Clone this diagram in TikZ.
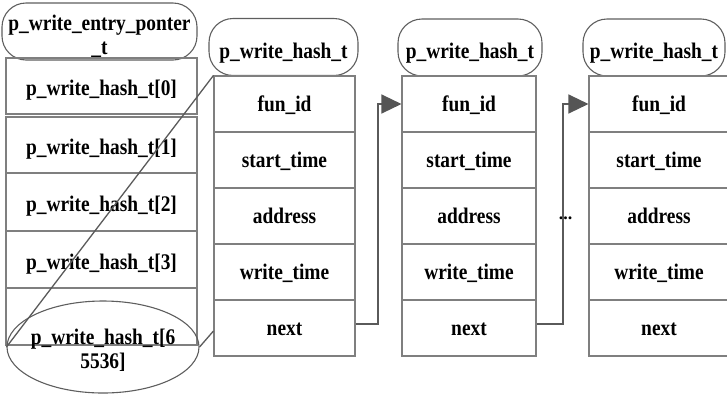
\documentclass[tikz,border=0pt]{standalone}
\usepackage{fontspec}
\setmainfont{Liberation Serif}
\newfontfamily\lblfont{Liberation Serif}[FakeStretch=0.87]
\usetikzlibrary{arrows.meta,shapes.geometric}
\definecolor{boxline}{HTML}{7F7F7F}
\definecolor{headline}{HTML}{5E5E5E}
\definecolor{linkline}{HTML}{5A5A5A}
\definecolor{tipfill}{HTML}{555555}
\tikzset{
  lbl/.style={font=\lblfont\fontsize{22.3}{24}\selectfont\bfseries, text=black},
  hdr/.style={lbl, draw=headline, line width=1.1pt, rounded corners=24pt,
              minimum height=57pt, inner sep=0pt, text height=22pt, text depth=0pt},
  shell/.style={draw=headline, line width=1.1pt, rounded corners=24pt,
              minimum height=57pt, inner sep=0pt},
  cell/.style={lbl, draw=boxline, line width=1.1pt, inner sep=0pt},
  arr/.style={cell, minimum width=191pt, text height=19pt, text depth=0pt},
  fld/.style={cell, minimum height=56pt, text height=15pt, text depth=1pt},
  link/.style={draw=linkline, line width=1.3pt},
  tip/.style={-{Triangle[length=20pt,width=19pt,fill=tipfill,color=tipfill]}},
  bigoval/.style={ellipse, draw=headline, line width=1.1pt,
                  minimum width=192pt, minimum height=92pt, inner sep=0pt}
}
\begin{document}
\begin{tikzpicture}[x=1pt,y=-1pt]
\useasboundingbox (0,0) rectangle (727,397);
\clip (0,0) rectangle (727,397);

% entry pointer table
\node[shell, minimum width=195pt] (ent) at (99.5,31.5) {};
\node[lbl, align=center, inner sep=0pt] (entT) at (99.5,36) {p\_write\_entry\_ponter\\\_t};
\node[arr, minimum height=56pt] (a0) at (101.5,86) {p\_write\_hash\_t[0]};
\node[arr, minimum height=56pt] (a1) at (101.5,145) {p\_write\_hash\_t[1]};
\node[arr, minimum height=58pt] (a2) at (101.5,202) {p\_write\_hash\_t[2]};
\node[arr, minimum height=57pt] (a3) at (101.5,259.5) {p\_write\_hash\_t[3]};
\node[arr, minimum height=57pt] (a4) at (101.5,316.5) {};
\node[bigoval] (last) at (103,347) {};
\node[lbl, align=center, inner sep=0pt] (lastT) at (103,350) {p\_write\_hash\_t[6\\5536]};

% first hash record
\node[hdr, minimum width=149pt] (h1) at (283.5,47) {p\_write\_hash\_t};
\node[fld, minimum width=141pt] (f1) at (284.5,104) {fun\_id};
\node[fld, minimum width=141pt] (s1) at (284.5,160) {start\_time};
\node[fld, minimum width=141pt] (d1) at (284.5,216) {address};
\node[fld, minimum width=141pt] (w1) at (284.5,272) {write\_time};
\node[fld, minimum width=141pt] (n1) at (284.5,328) {next};

% second hash record
\node[hdr, minimum width=144pt] (h2) at (470,47.5) {p\_write\_hash\_t};
\node[fld, minimum width=134pt] (f2) at (469,104) {fun\_id};
\node[fld, minimum width=134pt] (s2) at (469,160) {start\_time};
\node[fld, minimum width=134pt] (d2) at (469,216) {address};
\node[fld, minimum width=134pt] (w2) at (469,272) {write\_time};
\node[fld, minimum width=134pt] (n2) at (469,328) {next};

% third hash record
\node[hdr, minimum width=142pt] (h3) at (654,47.5) {p\_write\_hash\_t};
\node[fld, minimum width=140pt] (f3) at (659,104) {fun\_id};
\node[fld, minimum width=140pt] (s3) at (659,160) {start\_time};
\node[fld, minimum width=140pt] (d3) at (659,216) {address};
\node[fld, minimum width=140pt] (w3) at (659,272) {write\_time};
\node[fld, minimum width=140pt] (n3) at (659,328) {next};

% ellipsis between records
\node[font=\fontsize{18}{18}\selectfont\bfseries, anchor=base, inner sep=0pt] (dots) at (565.5,219.5) {...};

% zoom lines from the last slot to the first record
\draw[link] (last.west) -- (f1.north west);
\draw[link] (last.east) -- ([yshift=-3pt]n1.west);

% next pointers
\coordinate (k1) at (378,0);
\coordinate (k2) at (563,0);
\draw[link, tip] ([yshift=4pt]n1.east) -| (k1 |- f2.west) -- (f2.west);
\draw[link, tip] ([yshift=4pt]n2.east) -| (k2 |- f3.west) -- (f3.west);
\end{tikzpicture}
\end{document}
